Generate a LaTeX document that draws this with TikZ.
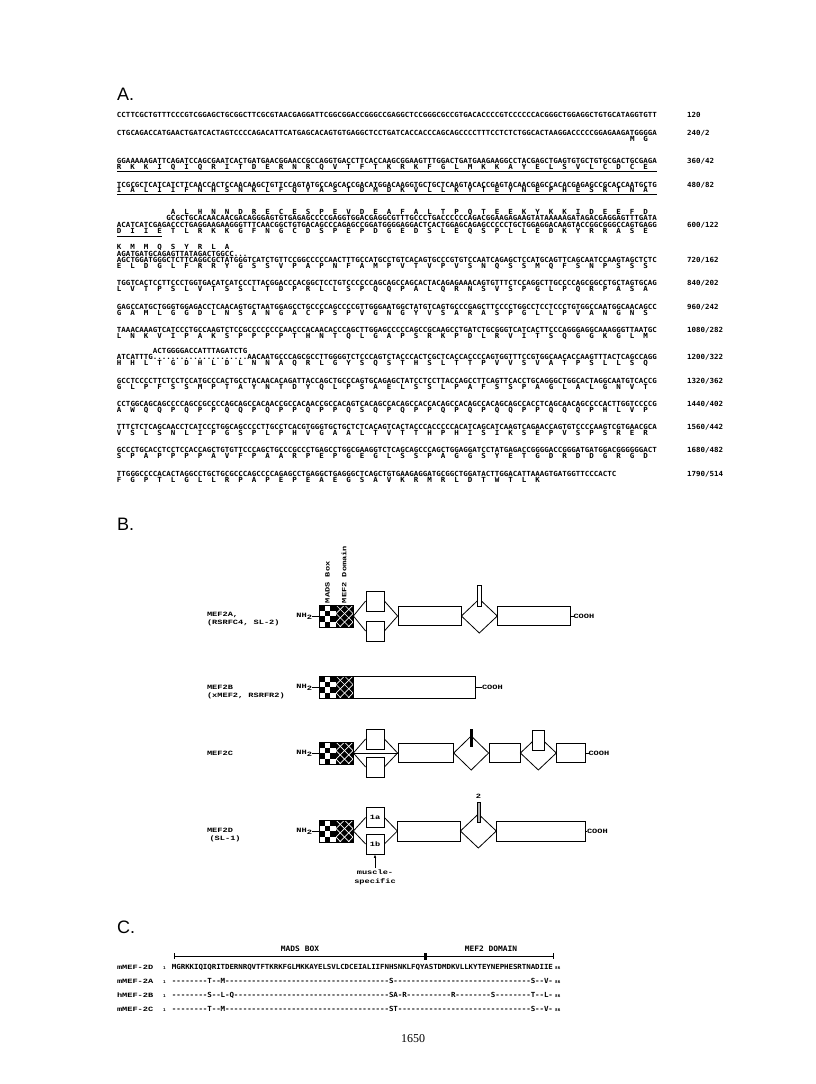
\documentclass[tikz,border=0pt]{standalone}
\usepackage{fontspec}
\newfontfamily\seqfont[FakeStretch=1.07]{DejaVu Sans Mono}
\newfontfamily\lblfont[FakeStretch=1.33]{Liberation Mono}
\newfontfamily\panelfont{Liberation Sans}
\newfontfamily\pgnofont{Liberation Serif}
\usetikzlibrary{arrows.meta}
\newlength\seqw \setlength\seqw{4.5pt}
% one box per base / residue
\def\dnaseq#1{\dnaloop#1\relax}
\def\dnaloop#1{\ifx#1\relax\else\makebox[\seqw]{#1}\expandafter\dnaloop\fi}
\def\protseq#1{\protloop#1\relax}
\def\protloop#1{\ifx#1\relax\else\makebox[3\seqw][l]{\makebox[\seqw]{#1}}\expandafter\protloop\fi}

\begin{document}
\begin{tikzpicture}[x=1pt,y=-1pt,
 dna/.style={font=\seqfont\bfseries\fontsize{7}{7}\selectfont,anchor=base west,inner sep=0pt,outer sep=0pt},
 num/.style={dna},
 hdr/.style={font=\seqfont\bfseries\fontsize{7.4}{8}\selectfont,anchor=base,inner sep=0pt},
 tiny/.style={font=\seqfont\bfseries\fontsize{4}{4}\selectfont,anchor=base west,inner sep=0pt},
 lbl/.style={font=\lblfont\bfseries\fontsize{6.5}{7.5}\selectfont,inner sep=0pt,outer sep=0pt},
 panel/.style={font=\panelfont\fontsize{18}{18}\selectfont,anchor=base west,inner sep=0pt},
 exon/.style={draw,fill=white,line width=0.8pt,inner sep=0pt,minimum height=20pt,font=\lblfont\bfseries\fontsize{6.5}{7.5}\selectfont},
 dom/.style={draw,line width=0.8pt,inner sep=0pt,minimum width=34pt,minimum height=22pt},
 conn/.style={line width=0.8pt},
 ul/.style={line width=1.1pt}]
\fill[white] (0,0) rectangle (816,1084);
\useasboundingbox (0,0) rectangle (816,1084);

% ---------------- A: cDNA and protein
\node[panel] (alet) at (117,100.5) {A.};
\node[dna] (l1) at (117,117.4) {\dnaseq{CCTTCGCTGT TTCCCGTCGG AGCTGCGGCT TCGCGTAACG AGGATTCGGC GGACCGGGCC GAGGCTCCGG GCGCCGTGAC ACCCCGTCCC CCCACGGGCT GGAGGCTGTG CATAGGTGTT}};
\node[num] (n1) at (687,117.4) {120};
\node[dna] (l2) at (117,135.5) {\dnaseq{CTGCAGACCA TGAACTGATC ACTAGTCCCC AGACATTCAT GAGCACAGTG TGAGGCTCCT GATCACCACC CAGCAGCCCC TTTCCTCTCT GGCACTAAGG ACCCCCGGAG AAGATGGGGA}};
\node[num] (n2) at (687,135.5) {240/2};
\node[dna] (p2) at (630,141.9) {\protseq{MG}};
\node[dna] (l3) at (117,163.8) {\dnaseq{GGAAAAAGAT TCAGATCCAG CGAATCACTG ATGAACGGAA CCGCCAGGTG ACCTTCACCA AGCGGAAGTT TGGACTGATG AAGAAGGCCT ACGAGCTGAG TGTGCTGTGC GACTGCGAGA}};
\node[num] (n3) at (687,163.8) {360/42};
\node[dna] (p3) at (117,169.2) {\protseq{RKKIQIQRIT DERNRQVTFT KRKFGLMKKA YELSVLCDCE}};
\node[dna] (l4) at (117,187.0) {\dnaseq{TCGCGCTCAT CATCTTCAAC CACTCCAACA AGCTGTTCCA GTATGCCAGC ACCGACATGG ACAAGGTGCT GCTCAAGTAC ACCGAGTACA ACGAGCCACA CGAGAGCCGC ACCAATGCTG}};
\node[num] (n4) at (687,187.0) {480/82};
\node[dna] (p4) at (117,192.4) {\protseq{IALIIFNHSN KLFQYASTDM DKVLLKYTEY NEPHESRTNA}};
\node[dna] (p5a) at (171,214.8) {\protseq{ALHNNDRECE SPEVDEAFAL TPQTEEKYKK IDEEFD}};
\node[dna] (l5a) at (166.5,220.1) {\dnaseq{GCGCTGCACA ACAACGACAG GGAGTGTGAG AGCCCCGAGG TGGACGAGGC GTTTGCCCTG ACCCCCCAGA CGGAAGAGAA GTATAAAAAG ATAGACGAGG AGTTTGATA}};
\node[dna] (l5) at (117,227.6) {\dnaseq{ACATCATCGA GACCCTGAGG AAGAAGGGTT TCAACGGCTG TGACAGCCCA GAGCCGGATG GGGAGGACTC ACTGGAGCAG AGCCCCCTGC TGGAGGACAA GTACCGGCGG GCCAGTGAGG}};
\node[num] (n5) at (687,227.6) {600/122};
\node[dna] (p5) at (117,233.8) {\protseq{DIIETLRKKG FNGCDSPEPD GEDSLEQSPL LEDKYRRASE}};
\node[dna] (p5b) at (117,249.8) {\protseq{KMMQSYRLA}};
\node[dna] (l5b) at (117,256.8) {\dnaseq{AGATGATGCA GAGTTATAGA CTGGCC...}};
\node[dna] (l6) at (117,262.6) {\dnaseq{AGCTGGATGG GCTCTTCAGG CGCTATGGGT CATCTGTTCC GGCCCCCAAC TTTGCCATGC CTGTCACAGT GCCCGTGTCC AATCAGAGCT CCATGCAGTT CAGCAATCCA AGTAGCTCTC}};
\node[num] (n6) at (687,262.6) {720/162};
\node[dna] (p6) at (117,268.6) {\protseq{ELDGLFRRYG SSVPAPNFAM PVTVPVSNQS SMQFSNPSSS}};
\node[dna] (l7) at (117,285.8) {\dnaseq{TGGTCACTCC TTCCCTGGTG ACATCATCCC TTACGGACCC ACGGCTCCTG TCCCCCCAGC AGCCAGCACT ACAGAGAAAC AGTGTTTCTC CAGGCTTGCC CCAGCGGCCT GCTAGTGCAG}};
\node[num] (n7) at (687,285.8) {840/202};
\node[dna] (p7) at (117,291.8) {\protseq{LVTPSLVTSS LTDPRLLSPQ QPALQRNSVS PGLPQRPASA}};
\node[dna] (l8) at (117,309.0) {\dnaseq{GAGCCATGCT GGGTGGAGAC CTCAACAGTG CTAATGGAGC CTGCCCCAGC CCCGTTGGGA ATGGCTATGT CAGTGCCCGA GCTTCCCCTG GCCTCCTCCC TGTGGCCAAT GGCAACAGCC}};
\node[num] (n8) at (687,309.0) {960/242};
\node[dna] (p8) at (117,315.0) {\protseq{GAMLGGDLNS ANGACPSPVG NGYVSARASP GLLPVANGNS}};
\node[dna] (l9) at (117,332.2) {\dnaseq{TAAACAAAGT CATCCCTGCC AAGTCTCCGC CCCCCCCAAC CCACAACACC CAGCTTGGAG CCCCCAGCCG CAAGCCTGAT CTGCGGGTCA TCACTTCCCA GGGAGGCAAA GGGTTAATGC}};
\node[num] (n9) at (687,332.2) {1080/282};
\node[dna] (p9) at (117,338.2) {\protseq{LNKVIPAKSP PPPTHNTQLG APSRKPDLRV ITSQGGKGLM}};
\node[dna] (l10a) at (153,353.5) {\dnaseq{ACTGGGGACC ATTTAGATCT G}};
\node[dna] (l10) at (117,359.4) {\dnaseq{ATCATTTG.. .......... ......... AACAATGCCC AGCGCCTTGG GGTCTCCCAG TCTACCCACT CGCTCACCAC CCCAGTGGTT TCCGTGGCAA CACCAAGTTT ACTCAGCCAG G}};
\node[num] (n10) at (687,359.4) {1200/322};
\node[dna] (p10) at (117,365.4) {\protseq{HHLTGDHLDL NNAQRLGYSQ STHSLTTPVV SVATPSLLSQ}};
\node[dna] (l11) at (117,383.2) {\dnaseq{GCCTCCCCTT CTCCTCCATG CCCACTGCCT ACAACACAGA TTACCAGCTG CCCAGTGCAG AGCTATCCTC CTTACCAGCC TTCAGTTCAC CTGCAGGGCT GGCACTAGGC AATGTCACCG}};
\node[num] (n11) at (687,383.2) {1320/362};
\node[dna] (p11) at (117,389.2) {\protseq{GLPFSSMPTA YNTDYQLPSA ELSSLPAFSS PAGLALGNVT}};
\node[dna] (l12) at (117,406.4) {\dnaseq{CCTGGCAGCA GCCCCAGCCG CCCCAGCAGC CACAACCGCC ACAACCGCCA CAGTCACAGC CACAGCCACC ACAGCCACAG CCACAGCAGC CACCTCAGCA ACAGCCCCAC TTGGTCCCCG}};
\node[num] (n12) at (687,406.4) {1440/402};
\node[dna] (p12) at (117,412.4) {\protseq{AWQQPQPPQQ PQPPQPPQSQ PQPPQPQPQQ PPQQQPHLVP}};
\node[dna] (l13) at (117,429.6) {\dnaseq{TTTCTCTCAG CAACCTCATC CCTGGCAGCC CCTTGCCTCA CGTGGGTGCT GCTCTCACAG TCACTACCCA CCCCCACATC AGCATCAAGT CAGAACCAGT GTCCCCAAGT CGTGAACGCA}};
\node[num] (n13) at (687,429.6) {1560/442};
\node[dna] (p13) at (117,435.6) {\protseq{VSLSNLIPGS PLPHVGAALT VTTHPHISIK SEPVSPSRER}};
\node[dna] (l14) at (117,452.8) {\dnaseq{GCCCTGCACC TCCTCCACCA GCTGTGTTCC CAGCTGCCCG CCCTGAGCCT GGCGAAGGTC TCAGCAGCCC AGCTGGAGGA TCCTATGAGA CCGGGGACCG GGATGATGGA CGGGGGGACT}};
\node[num] (n14) at (687,452.8) {1680/482};
\node[dna] (p14) at (117,458.8) {\protseq{SPAPPPPAVF PAARPEPGEG LSSPAGGSYE TGDRDDGRGD}};
\node[dna] (l15) at (117,476.0) {\dnaseq{TTGGGCCCCA CACTAGGCCT GCTGCGCCCA GCCCCAGAGC CTGAGGCTGA GGGCTCAGCT GTGAAGAGGA TGCGGCTGGA TACTTGGACA TTAAAGTGAT GGTTCCCACT C}};
\node[num] (n15) at (687,476.0) {1790/514};
\node[dna] (p15) at (117,482.0) {\protseq{FGPTLGLLRP APEPEAEGSA VKRMRLDTWT LK}};
\draw[ul] ([yshift=-2.4pt]p3.base west) -- ([yshift=-2.4pt]p3.base east);
\draw[ul] ([yshift=-2.4pt]p4.base west) -- ([yshift=-2.4pt]p4.base east);
\draw[ul] ([yshift=-2.4pt]p5.base west) -- ([yshift=-2.4pt,xshift=45pt]p5.base west);

% ---------------- B: MEF2 proteins
\node[panel] (blet) at (117,530.5) {B.};
\node[lbl,rotate=90,anchor=west] (madsl) at (327.5,603) {MADS Box};
\node[lbl,rotate=90,anchor=west] (mefl) at (344,603) {MEF2 Domain};
\foreach \rw/\cy in {a/616,b/687,c/753,d/831}{
  \begin{scope}
    \clip (319,\cy-11) rectangle (336,\cy+11);
    \foreach \i in {0,1,2}{
      \foreach \j in {0,...,3}{
        \pgfmathtruncatemacro\k{mod(\i+\j,2)}
        \ifnum\k=0 \fill (319+\i*5.667,\cy-11+\j*5.5) rectangle ++(5.667,5.5);\fi
      }
    }
  \end{scope}
  \begin{scope}
    \clip (336,\cy-11) rectangle (353,\cy+11);
    \fill (336,\cy-11) rectangle (353,\cy+11);
    \foreach \t in {-25.5,-17,...,17}{
      \draw[white,line width=0.7pt] (336+\t,\cy-11) -- ++(22,22);
      \draw[white,line width=0.7pt] (353-\t,\cy-11) -- ++(-22,22);
    }
  \end{scope}
  \node[dom] (\rw dom) at (336,\cy) {};
  \node[lbl,anchor=east] (\rw nh) at (312,\cy) {NH\raisebox{-1.8pt}{2}};
  \draw[conn] (\rw nh) -- (\rw dom);
}
% MEF2A
\node[lbl,anchor=base west] (alab) at (207,616.5) {MEF2A,};
\node[lbl,anchor=base west] (alab2) at (207,624) {(RSRFC4, SL-2)};
\node[exon,minimum width=18pt] (au) at (375,601) {};
\node[exon,minimum width=18pt] (al) at (375,631) {};
\node[exon,minimum width=63pt,minimum height=19pt] (a1) at (429.5,616) {};
\node[exon,minimum width=72.3pt,minimum height=19pt] (a2) at (533.85,616) {};
\coordinate (at) at (479.3,599);
\coordinate (ab) at (479.3,633);
\node[lbl,anchor=west] (acooh) at (573.5,616) {COOH};
\draw[conn] (adom.east) -- (au.west);
\draw[conn] (adom.east) -- (al.west);
\draw[conn] (au.east) -- (a1.west);
\draw[conn] (al.east) -- (a1.west);
\draw[conn] (a1.east) -- (at) -- (a2.west) -- (ab) -- cycle;
\node[draw,fill=white,line width=0.6pt,inner sep=0pt,minimum width=3.5pt,minimum height=21pt] (abar) at (479.3,595.5) {};
\draw[conn] (a2.east) -- (acooh.west);
% MEF2B
\node[lbl,anchor=base west] (blab) at (207,689.5) {MEF2B};
\node[lbl,anchor=base west] (blab2) at (207,697) {(xMEF2, RSRFR2)};
\node[exon,minimum width=122pt,minimum height=22pt] (b1) at (414,687) {};
\node[lbl,anchor=west] (bcooh) at (482,687) {COOH};
\draw[conn] (b1.east) -- (bcooh.west);
% MEF2C
\node[lbl,anchor=base west] (clab) at (207,755) {MEF2C};
\node[exon,minimum width=18pt] (cu) at (375,739) {};
\node[exon,minimum width=18pt] (cl) at (375,767) {};
\node[exon,minimum width=55.3pt,minimum height=19pt] (c1) at (425.65,753) {};
\node[exon,minimum width=31pt,minimum height=19pt] (c2) at (504.5,753) {};
\node[exon,minimum width=28.3pt,minimum height=19pt] (c3) at (570.85,753) {};
\coordinate (ct1) at (471.2,736);
\coordinate (cb1) at (471.2,770);
\coordinate (ct2) at (538.35,736);
\coordinate (cb2) at (538.35,770);
\node[lbl,anchor=west] (ccooh) at (588.5,753) {COOH};
\draw[conn] (cdom.east) -- (cu.west);
\draw[conn] (cdom.east) -- (cl.west);
\draw[conn] (cdom.east) -- (c1.west);
\draw[conn] (cu.east) -- (c1.west);
\draw[conn] (cl.east) -- (c1.west);
\draw[conn] (c1.east) -- (ct1) -- (c2.west) -- (cb1) -- cycle;
\draw[conn] (c2.east) -- (ct2) -- (c3.west) -- (cb2) -- cycle;
\node[fill=black,inner sep=0pt,minimum width=3.4pt,minimum height=18pt] (cbar) at (471.2,738) {};
\node[exon,minimum width=11.7pt] (cs) at (538.2,740) {};
\draw[conn] (c3.east) -- (ccooh.west);
% MEF2D
\node[lbl,anchor=base west] (dlab) at (207,832) {MEF2D};
\node[lbl,anchor=base west] (dlab2) at (209.5,840.5) {(SL-1)};
\node[exon,minimum width=18pt] (d1a) at (375,817.5) {1a};
\node[exon,minimum width=18pt] (d1b) at (375,844) {1b};
\node[exon,minimum width=62.3pt] (d1) at (428.85,831) {};
\node[exon,minimum width=88.3pt] (d2) at (540.85,831) {};
\coordinate (dt) at (478.35,814);
\coordinate (db) at (478.35,848);
\node[lbl,anchor=west] (dcooh) at (587,831) {COOH};
\draw[conn] (ddom.east) -- (d1a.west);
\draw[conn] (ddom.east) -- (d1b.west);
\draw[conn] (d1a.east) -- (d1.west);
\draw[conn] (d1b.east) -- (d1.west);
\draw[conn] (d1.east) -- (dt) -- (d2.west) -- (db) -- cycle;
\node[draw,fill=gray!60,line width=0.4pt,inner sep=0pt,minimum width=3pt,minimum height=20pt] (dbar) at (478.5,812) {};
\node[lbl] (dtwo) at (478.5,796) {2};
\draw[conn] (d2.east) -- (dcooh.west);
\node[lbl,align=center,anchor=north,font=\lblfont\bfseries\fontsize{6.5}{9}\selectfont] (msp) at (375,870) {muscle-\\specific};
\draw[-{Latex[length=3.5pt,width=2.6pt]},line width=0.6pt,shorten <=2pt] (msp.north) -- (d1b.south);

% ---------------- C: alignment
\node[panel] (clet) at (117,933) {C.};
\node[hdr] (madsh) at (300,951.4) {MADS BOX};
\node[hdr] (mefh) at (491,951.4) {MEF2 DOMAIN};
\coordinate (hs) at (174,956);
\coordinate (hm) at (425,956);
\coordinate (he) at (553,956);
\draw[line width=0.8pt] (hs) -- (he);
\draw[line width=0.8pt] ([yshift=3pt]hs) -- ([yshift=-3pt]hs);
\draw[line width=0.8pt] ([yshift=3pt]he) -- ([yshift=-3pt]he);
\fill ([xshift=-1.5pt,yshift=3.5pt]hm) rectangle ([xshift=1.5pt,yshift=-3.5pt]hm);
\node[lbl,anchor=base west] (r2d) at (117,969.4) {mMEF-2D};
\node[tiny] (r2dn) at (163,969.4) {1};
\node[dna] (s2d) at (172,969.4) {\setlength\seqw{4.43pt}\dnaseq{MGRKKIQIQR ITDERNRQVT FTKRKFGLMK KAYELSVLCD CEIALIIFNH SNKLFQYAST DMDKVLLKYT EYNEPHESRT NADIIE}};
\node[tiny,xshift=2pt] (r2de) at (s2d.base east) {86};
\node[lbl,anchor=base west] (r2a) at (117,983.4) {mMEF-2A};
\node[tiny] (r2an) at (163,983.4) {1};
\node[dna] (s2a) at (172,983.4) {\setlength\seqw{4.43pt}\dnaseq{--------T- -M-------- ---------- ---------- ---------S ---------- ---------- ---------- -S--V-}};
\node[tiny,xshift=2pt] (r2ae) at (s2a.base east) {86};
\node[lbl,anchor=base west] (r2b) at (117,997.4) {hMEF-2B};
\node[tiny] (r2bn) at (163,997.4) {1};
\node[dna] (s2b) at (172,997.4) {\setlength\seqw{4.43pt}\dnaseq{--------S- -L-Q------ ---------- ---------- ---------S A-R------- ---R------ --S------- -T--L-}};
\node[tiny,xshift=2pt] (r2be) at (s2b.base east) {86};
\node[lbl,anchor=base west] (r2c) at (117,1011.4) {mMEF-2C};
\node[tiny] (r2cn) at (163,1011.4) {1};
\node[dna] (s2c) at (172,1011.4) {\setlength\seqw{4.43pt}\dnaseq{--------T- -M-------- ---------- ---------- ---------S T--------- ---------- ---------- -S--V-}};
\node[tiny,xshift=2pt] (r2ce) at (s2c.base east) {86};

\node[font=\pgnofont\fontsize{12}{12}\selectfont,anchor=base,inner sep=0pt] (pgno) at (413,1042) {1650};
\end{tikzpicture}
\end{document}
